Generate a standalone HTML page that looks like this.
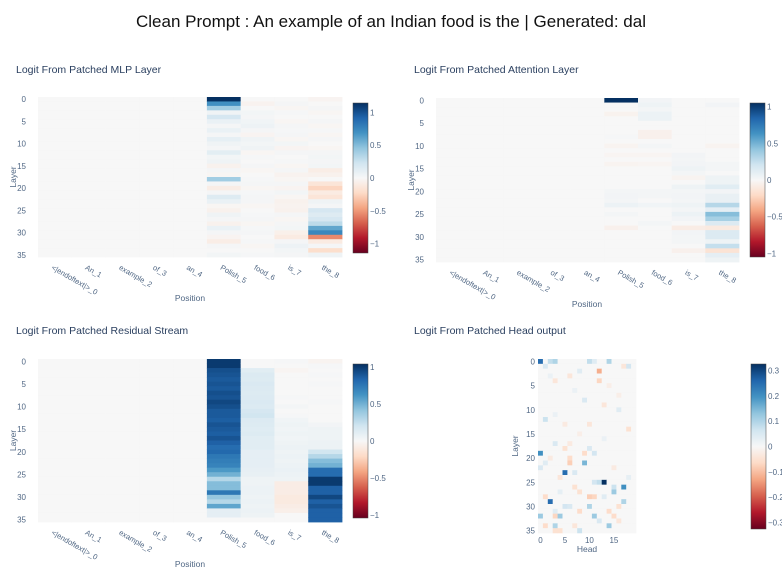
<!DOCTYPE html>
<html><head><meta charset="utf-8"><style>
body{margin:0;background:#fff;font-family:"Liberation Sans",sans-serif}
svg text{font-family:"Liberation Sans",sans-serif}
</style></head><body>
<svg id="fig" width="782" height="573" xmlns="http://www.w3.org/2000/svg">
<text x="391" y="27" text-anchor="middle" font-size="17" fill="#111">Clean Prompt : An example of an Indian food is the | Generated: dal</text>
<text x="16" y="73" font-size="10.5" fill="#2a3f5f">Logit From Patched MLP Layer</text>
<text x="414" y="73" font-size="10.5" fill="#2a3f5f">Logit From Patched Attention Layer</text>
<text x="16" y="334" font-size="10.5" fill="#2a3f5f">Logit From Patched Residual Stream</text>
<text x="414" y="334" font-size="10.5" fill="#2a3f5f">Logit From Patched Head output</text>
<defs><linearGradient id="rdbu" x1="0" y1="1" x2="0" y2="0">
<stop offset="0" stop-color="rgb(103,0,31)"/><stop offset="0.1" stop-color="rgb(178,24,43)"/><stop offset="0.2" stop-color="rgb(214,96,77)"/><stop offset="0.3" stop-color="rgb(244,165,130)"/><stop offset="0.4" stop-color="rgb(253,219,199)"/><stop offset="0.5" stop-color="rgb(247,247,247)"/><stop offset="0.6" stop-color="rgb(209,229,240)"/><stop offset="0.7" stop-color="rgb(146,197,222)"/><stop offset="0.8" stop-color="rgb(67,147,195)"/><stop offset="0.9" stop-color="rgb(33,102,172)"/><stop offset="1" stop-color="rgb(5,48,97)"/>
</linearGradient></defs>
</svg>
<script>
const positions = ["<|endoftext|>_0","An_1","example_2","of_3","an_4","Polish_5","food_6","is_7","the_8"];
const mlpPolish = [1.15,0.7,0.4,0.05,0.2,0.08,0.02,0.08,0.02,0.1,0.05,0.02,0.12,0.03,0.05,-0.05,0.02,-0.02,0.4,0.02,-0.08,0.02,0.15,0.08,-0.02,-0.05,0.05,0.02,-0.05,0.08,0.02,-0.03,-0.08,0.02,0,0.03];
const mlpFood = [0,-0.04,0,0.03,0.02,0.04,0.06,0.02,-0.03,0.05,0.03,0.05,-0.02,0.01,0,0.02,-0.02,0,0.01,0.02,-0.02,0.01,0.02,0.02,-0.02,0,0.01,0.02,-0.02,0.01,0.02,0,0.01,-0.02,0,0.01];
const mlpIs = [0,0.02,-0.02,0.01,0,-0.02,0.02,0.01,0.02,-0.02,0.03,-0.03,0.02,0,0.01,-0.02,0.02,-0.04,-0.02,0.02,-0.03,0.03,-0.02,-0.05,-0.04,-0.05,0.02,-0.02,0.02,0.03,-0.06,-0.1,0.02,0.06,0.03,0.02];
const mlpThe = [-0.03,0,0.02,-0.02,0,0.02,-0.02,0.01,-0.02,0.02,0,-0.02,0.02,0.03,0.02,0.03,-0.08,-0.05,0,-0.15,-0.25,-0.1,-0.15,0.05,0.02,0.2,0.15,0.2,0.3,0.6,0.75,-0.55,-0.1,0.02,-0.2,0.05];
const attnPolish = [1.05,0,0,-0.04,0,0,0,0,0.01,0,-0.03,0,-0.02,0,-0.03,0,0,0,0,0,0.02,0.03,0.02,0.06,0,0.02,0,0,-0.05,0,0,0,0,0,0,0];
const attnFood = [0.03,0.05,0.02,0.06,0.06,0,0,-0.05,-0.05,0,0.02,0,-0.02,0,-0.02,0,0,0,0,0,0.02,0.02,0,0.04,0,0,0,0.02,0,0,0,0,0,0,0,0];
const attnIs = [0,0,0,0,0,0,0,0,0,0,0,0,0.03,0.02,0.03,0.05,0.02,-0.03,0,0.05,0.02,0.03,0.02,0.05,0.02,0.06,0.03,0,-0.08,0.03,0.02,0.02,0,-0.05,0,0];
const attnThe = [0,0.03,0,0,0,0,0,0,0,0,-0.03,0,0,0,0.02,0.02,0,0.05,0.05,0.12,0.03,0.08,0.08,0.3,0.1,0.45,0.35,0.15,-0.1,0.15,0.15,0.05,0.25,-0.15,0.1,0.05];
const residPolish = [1.0,1.0,0.92,0.9,0.88,0.9,0.88,0.92,0.9,0.95,0.92,0.88,0.88,0.86,0.9,0.88,0.86,0.9,0.85,0.8,0.82,0.75,0.72,0.7,0.6,0.5,0.3,0.45,0.45,0.75,0.4,0.3,0.55,0.1,0.1,0];
const residFood = [0,0,0.12,0.15,0.14,0.16,0.15,0.14,0.15,0.16,0.15,0.18,0.2,0.15,0.14,0.13,0.14,0.12,0.12,0.12,0.1,0.1,0.1,0.1,0.09,0.08,0.05,0.05,0.06,0.06,0.05,0.06,0.05,0.06,0.05,0];
const residIs = [0.01,0,-0.02,0,0,0,0,0,0.01,0,0.02,0,0.01,0.04,0.05,0.04,0.05,0.04,0.05,0.06,0.05,0.06,0.05,0.06,0.07,0.06,0.05,-0.08,-0.08,-0.08,-0.1,-0.1,-0.08,-0.06,0,0];
const residThe = [-0.03,0.01,0,0.01,0,0.01,0,0,0,0.01,0,0,0,0,0.03,0.05,0.05,0.05,0.06,0.06,0.2,0.3,0.45,0.5,0.8,0.8,1.0,1.0,0.85,0.85,0.95,0.85,0.9,0.85,0.85,0.85];
// sparse head-output cells: [layer, head, value]
const headCells = [[0,0,0.25],[0,2,0.08],[0,3,0.1],[0,10,0.08],[0,11,0.04],[0,14,0.1],[1,1,0.05],[1,18,0.06],[1,17,-0.04],[2,12,-0.12],[3,6,-0.04],[4,12,-0.07],[2,8,0.04],[4,3,-0.04],[8,9,0.05],[9,13,-0.04],[10,16,0.04],[12,1,0.07],[13,5,-0.03],[13,10,-0.04],[14,18,-0.05],[17,3,0.05],[17,6,-0.03],[19,0,0.2],[18,10,0.05],[19,11,0.06],[18,5,-0.05],[19,9,-0.06],[20,6,-0.06],[21,9,0.15],[21,6,-0.08],[21,1,0.04],[22,0,0.05],[23,5,0.25],[23,7,0.05],[24,4,-0.04],[25,13,0.33],[25,12,0.08],[25,11,0.06],[26,17,0.2],[26,15,0.07],[26,7,-0.05],[27,15,0.12],[27,8,-0.05],[28,10,-0.08],[28,11,-0.07],[28,1,-0.06],[28,13,0.04],[29,2,0.25],[29,17,0.1],[30,10,0.1],[30,5,0.06],[30,6,0.05],[30,16,-0.05],[31,8,-0.06],[31,3,0.04],[31,14,-0.06],[32,0,0.12],[32,4,0.12],[32,11,0.12],[32,3,-0.07],[32,15,-0.06],[33,12,0.05],[33,16,-0.04],[34,3,0.1],[34,14,0.12],[34,1,-0.06],[34,7,-0.04],[35,8,0.07],[35,3,-0.05],[35,4,-0.05],[3,2,0.02],[5,14,-0.02],[6,7,0.02],[7,16,-0.02],[11,3,0.02],[15,8,-0.02],[16,13,0.02],[22,15,-0.03],[24,18,0.03],[20,2,-0.03],[27,4,0.03]];
const layerTicks = [0,5,10,15,20,25,30,35];
const headTicks = [0,5,10,15];

const stops=[[103,0,31],[178,24,43],[214,96,77],[244,165,130],[253,219,199],[247,247,247],[209,229,240],[146,197,222],[67,147,195],[33,102,172],[5,48,97]];
function color(v,zmax){let t=(v/zmax+1)/2;t=Math.max(0,Math.min(1,t));const f=t*10,i=Math.min(9,Math.floor(f)),r=f-i;const a=stops[i],b=stops[i+1];return `rgb(${Math.round(a[0]+(b[0]-a[0])*r)},${Math.round(a[1]+(b[1]-a[1])*r)},${Math.round(a[2]+(b[2]-a[2])*r)})`;}
const svg=document.getElementById('fig');const NS='http://www.w3.org/2000/svg';
function mk(tag,attrs,parent){const e=document.createElementNS(NS,tag);for(const k in attrs)e.setAttribute(k,attrs[k]);(parent||svg).appendChild(e);return e;}
function txt(x,y,s,size,anchor,parent,extra){const t=mk('text',Object.assign({x:x,y:y,'font-size':size,fill:'#506784','text-anchor':anchor},extra||{}),parent);t.textContent=s;return t;}

function colorbar(name,x,y0,y1,zmax,ticks,labels){
  const g=mk('g',{});
  
  
  mk('rect',{x:x,y:y0,width:15,height:y1-y0,fill:'url(#rdbu)',stroke:'#444','stroke-width':0.5},g);
  ticks.forEach((t,i)=>{const yy=y0+(zmax-t)/(2*zmax)*(y1-y0);const tl=txt(x+17,yy+3,labels[i],8,'start',g);
    
    });
}

function positionMap(name,x0,x1,y0,y1,cols,zmax,cbx,cby0,cby1,titleX,titleY,layerX){
  const g=mk('g',{});
  
  
  const nC=positions.length,nR=36,cw=(x1-x0)/nC,rh=(y1-y0)/nR;
  const xs=i=>x0+i*cw, ys=r=>y0+r*rh;
  for(let c=0;c<nC;c++)for(let r=0;r<nR;r++){
    const arr=cols[c];const v=arr?arr[r]:0;
    const rc=mk('rect',{x:xs(c),y:ys(r),width:cw+0.4,height:rh+0.4,fill:color(v,zmax)},g);
    
    
  }
  layerTicks.forEach(t=>{const tl=txt(x0-12,ys(t+0.5)+3,String(t),8,'end',g);
    
    });
  positions.forEach((p,i)=>{const cx=xs(i+0.5)-4,cy=y1+12;const tl=txt(cx,cy,p,7.5,'start',g,{transform:`rotate(30 ${cx} ${cy})`});
    
    });
  const xt=txt(titleX,titleY,'Position',8.5,'middle',g);
  
  
  const lx=layerX,ly=(y0+y1)/2;
  const yt=txt(lx,ly,'Layer',8.5,'middle',g,{transform:`rotate(-90 ${lx} ${ly})`});
  
  
  colorbar(name+'-colorbar',cbx,cby0,cby1,zmax,[1,0.5,0,-0.5,-1],['1','0.5','0','−0.5','−1']);
}
const E=null;
positionMap('mlp-heatmap',38,342,97,257,[E,E,E,E,E,mlpPolish,mlpFood,mlpIs,mlpThe],1.145,353,103,253,190,301,16);
positionMap('attn-heatmap',436,739,98,262,[E,E,E,E,E,attnPolish,attnFood,attnIs,attnThe],1.05,750,103,257,587,307,414);
positionMap('resid-heatmap',38,342,359,522,[E,E,E,E,E,residPolish,residFood,residIs,residThe],1.04,353,364,518,190,567,16);

// head heatmap
(function(){
  const x0=538,x1=636,y0=359,y1=533,nC=20,nR=36,cw=(x1-x0)/nC,rh=(y1-y0)/nR;
  const g=mk('g',{});
  
  
  const grid=[];for(let r=0;r<nR;r++){grid.push(new Array(nC).fill(0));}
  headCells.forEach(c=>{grid[c[0]][c[1]]=c[2];});
  const zmax=0.326;
  for(let r=0;r<nR;r++)for(let c=0;c<nC;c++){
    const rc=mk('rect',{x:x0+c*cw,y:y0+r*rh,width:cw+0.3,height:rh+0.3,fill:color(grid[r][c],zmax)},g);
    
    
  }
  layerTicks.forEach(t=>{const tl=txt(x0-3,y0+(t+0.5)*rh+3,String(t),8,'end',g);
    
    });
  headTicks.forEach(t=>{const tl=txt(x0+(t+0.5)*cw,y1+10,String(t),8,'middle',g);
    
    });
  const xt=txt(587,552,'Head',8.5,'middle',g);
  
  
  const yt=txt(518,446,'Layer',8.5,'middle',g,{transform:'rotate(-90 518 446)'});
  
  
  colorbar('head-colorbar',751,364,529,zmax,[0.3,0.2,0.1,0,-0.1,-0.2,-0.3],['0.3','0.2','0.1','0','−0.1','−0.2','−0.3']);
})();
</script>
</body></html>
